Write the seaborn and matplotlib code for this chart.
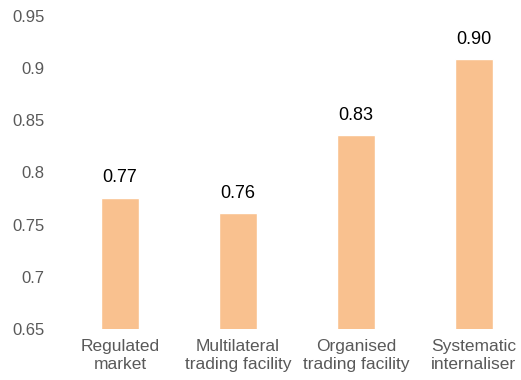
import matplotlib
matplotlib.use("Agg")
import matplotlib.pyplot as plt
import seaborn as sns
import pandas as pd

# venue types and average values
venues = ["Regulated\nmarket", "Multilateral\ntrading facility",
          "Organised\ntrading facility", "Systematic\ninternaliser"]
values = [0.776, 0.761, 0.836, 0.909]
value_labels = ["0.77", "0.76", "0.83", "0.90"]
yticks = [0.65, 0.7, 0.75, 0.8, 0.85, 0.9, 0.95]
ytick_labels = ["0.65", "0.7", "0.75", "0.8", "0.85", "0.9", "0.95"]

sns.set_style("white")
plt.rcParams["font.family"] = ["Liberation Sans", "DejaVu Sans"]

df = pd.DataFrame({"venue": venues, "value": values})

fig = plt.figure(figsize=(5.21, 3.80), dpi=100)
ax = fig.add_axes([61 / 521, 1 - 329 / 380, 1 - 61 / 521, (329 - 16) / 380])

sns.barplot(data=df, x="venue", y="value", color="#F9C18F", saturation=1,
            width=0.32, ax=ax)

for i, (v, lab) in enumerate(zip(values, value_labels)):
    ax.annotate(lab, (i, v), xytext=(0, 8), textcoords="offset points",
                ha="center", va="bottom", fontsize=13, color="#000000")

ax.set_ylim(0.65, 0.95)
ax.set_xlim(-0.5, 3.4)
ax.set_yticks(yticks)
ax.set_yticklabels(ytick_labels)
ax.set_xlabel("")
ax.set_ylabel("")
ax.tick_params(axis="both", length=0, labelsize=12, colors="#595959")
ax.tick_params(axis="y", pad=12)
ax.tick_params(axis="x", pad=7, labelsize=12.5)
for t in ax.get_xticklabels():
    t.set_linespacing(1.25)
for s in ax.spines.values():
    s.set_visible(False)

fig.savefig("out.png", dpi=100)
